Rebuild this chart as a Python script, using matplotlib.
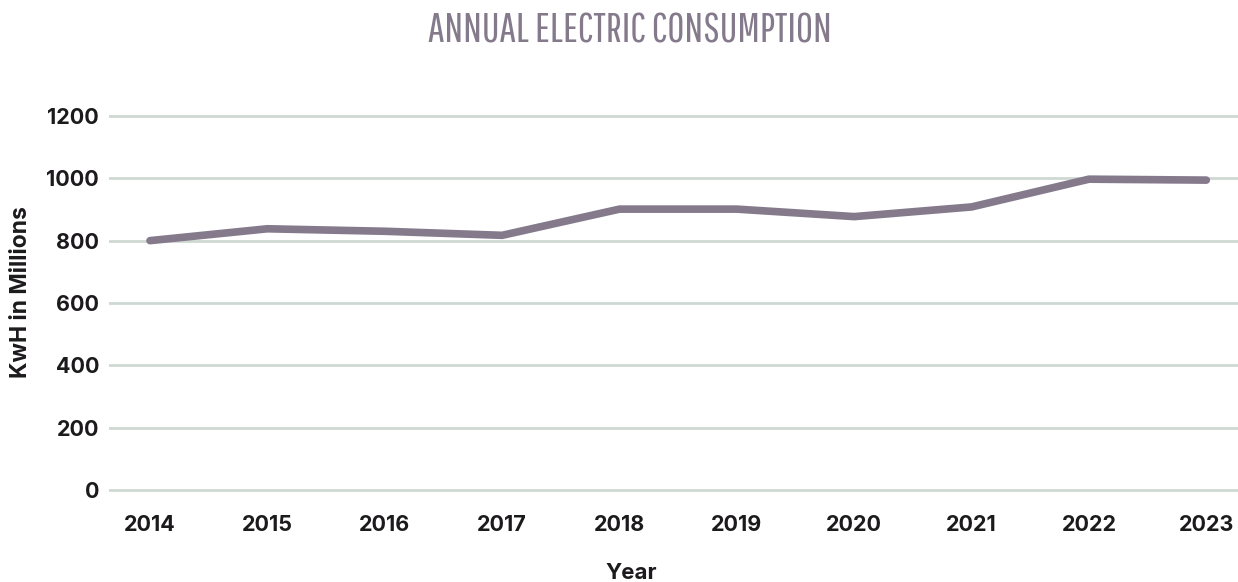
import matplotlib.pyplot as plt

years = ['2014', '2015', '2016', '2017', '2018', '2019', '2020', '2021', '2022', '2023']
consumption = [800, 838, 830, 817, 901, 901, 877, 908, 997, 994]
y_ticks = [0, 200, 400, 600, 800, 1000, 1200]

line_color = '#847a8c'
grid_color = '#cfd8d3'
text_color = '#1c1a1c'

plt.rcParams['font.family'] = ['Inter', 'DejaVu Sans']

fig = plt.figure(figsize=(12.38, 5.82), dpi=100)
# axes box: y=0 at 493px, y=1200 at 115px
ax = fig.add_axes([0.088, 0.147, 0.912, 0.662])

x = range(len(years))
for t in y_ticks:
    ax.axhline(t, color=grid_color, linewidth=2, zorder=1)
ax.plot(x, consumption, color=line_color, linewidth=5.5, solid_capstyle='round',
        solid_joinstyle='round', zorder=3)

ax.set_xlim(-0.35, 9.27)
ax.set_ylim(-20, 1215)
ax.set_xticks(list(x))
ax.set_xticklabels(years, fontsize=15.5, fontweight='bold', color=text_color)
ax.set_yticks(y_ticks)
ax.set_yticklabels([str(t) for t in y_ticks], fontsize=15.5, fontweight='bold', color=text_color)
ax.tick_params(axis='both', length=0)
ax.tick_params(axis='x', pad=13)
ax.tick_params(axis='y', pad=7)
for s in ax.spines.values():
    s.set_visible(False)

ax.set_xlabel('Year', fontsize=16, fontweight='bold', color=text_color)
ax.set_ylabel('KwH in Millions', fontsize=16.5, fontweight='bold', color=text_color)
ax.xaxis.set_label_coords(0.463, -0.172)
ax.yaxis.set_label_coords(-0.068, 0.53)

fig.text(0.509, 0.947, 'ANNUAL ELECTRIC CONSUMPTION', ha='center', va='center',
         fontsize=30, color=line_color,
         family=['Pathway Gothic One', 'Barlow Condensed', 'DejaVu Sans'])

plt.savefig('out.png', dpi=100)
